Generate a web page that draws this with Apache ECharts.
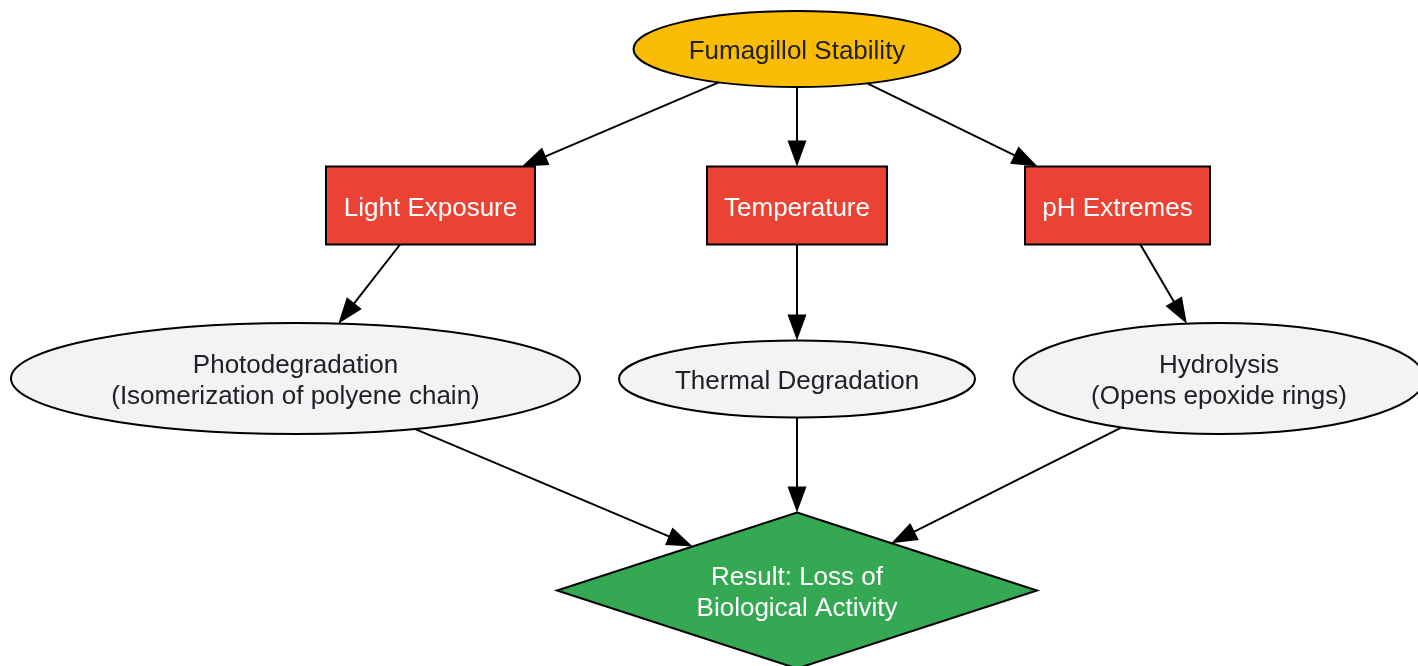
<!DOCTYPE html>
<html>
<head>
<meta charset="utf-8">
<script src="https://cdn.jsdelivr.net/npm/echarts@6/dist/echarts.min.js"></script>
<style>
  html, body { margin: 0; padding: 0; background: #fff; }
  #chart { width: 1418px; height: 666px; }
</style>
</head>
<body>
<div id="chart"></div>
<script>
// 节点文字
const nodeNames = [
  'Fumagillol Stability',
  'Light Exposure',
  'Temperature',
  'pH Extremes',
  'Photodegradation\n(Isomerization of polyene chain)',
  'Thermal Degradation',
  'Hydrolysis\n(Opens epoxide rings)',
  'Result: Loss of\nBiological Activity'
]
const nodeShapes = ['ellipse', 'rect', 'rect', 'rect', 'ellipse', 'ellipse', 'ellipse', 'diamond']
// 连线 (from -> to)
const edgeFrom = [0, 0, 0, 1, 2, 3, 4, 5, 6]
const edgeTo = [1, 2, 3, 4, 5, 6, 7, 7, 7]

// 布局
const nodeX = [797, 430.5, 797, 1117.5, 295.5, 797, 1219, 797]
const nodeY = [49, 205.5, 205.5, 205.5, 378.5, 379, 378.5, 590.5]
const nodeW = [327, 209, 180, 185, 569, 356, 411, 480]
const nodeH = [76, 78, 78, 78, 111, 77, 111, 156]
const nodeFill = ['#FBBC05', '#EA4335', '#EA4335', '#EA4335', '#F1F3F4', '#F1F3F4', '#F1F3F4', '#34A853']
const nodeTextColor = ['#202124', '#fff', '#fff', '#fff', '#202124', '#202124', '#202124', '#fff']

const arrowW = 19
const arrowL = 26

// 形状边界截断
const clipT = (i, dx, dy) => {
  const hw = nodeW[i] / 2, hh = nodeH[i] / 2
  if (nodeShapes[i] === 'ellipse') return 1 / Math.sqrt((dx / hw) ** 2 + (dy / hh) ** 2)
  if (nodeShapes[i] === 'diamond') return 1 / (Math.abs(dx) / hw + Math.abs(dy) / hh)
  return Math.min(dx ? hw / Math.abs(dx) : Infinity, dy ? hh / Math.abs(dy) : Infinity)
}

const edgeData = edgeFrom.map((f, k) => {
  const t = edgeTo[k]
  const dx = nodeX[t] - nodeX[f], dy = nodeY[t] - nodeY[f]
  const len = Math.sqrt(dx * dx + dy * dy)
  const ts = clipT(f, dx, dy)
  const te = clipT(t, dx, dy)
  const back = arrowL / 2 / len
  return {
    coords: [
      [nodeX[f] + dx * ts, nodeY[f] + dy * ts],
      [nodeX[t] - dx * (te + back), nodeY[t] - dy * (te + back)]
    ]
  }
})

const nodeStroke = {stroke: '#000', lineWidth: 2}

const renderNode = (params, api) => {
  const i = params.dataIndex
  const c = api.coord([api.value(0), api.value(1)])
  const s = api.size([api.value(2), api.value(3)])
  const w = s[0], h = s[1]
  let shape
  if (nodeShapes[i] === 'ellipse') {
    shape = {type: 'ellipse', shape: {cx: c[0], cy: c[1], rx: w / 2, ry: h / 2}}
  } else if (nodeShapes[i] === 'diamond') {
    shape = {
      type: 'polygon',
      shape: {points: [[c[0], c[1] - h / 2], [c[0] + w / 2, c[1]], [c[0], c[1] + h / 2], [c[0] - w / 2, c[1]]]}
    }
  } else {
    shape = {type: 'rect', shape: {x: c[0] - w / 2, y: c[1] - h / 2, width: w, height: h}}
  }
  shape.style = {fill: nodeFill[i], ...nodeStroke}
  return {
    type: 'group',
    children: [
      shape,
      {
        type: 'text',
        style: {
          text: nodeNames[i],
          x: c[0],
          y: c[1] + 3,
          align: 'center',
          verticalAlign: 'middle',
          fill: nodeTextColor[i],
          fontSize: 26,
          lineHeight: 31,
          fontFamily: '"Liberation Sans", Arial, sans-serif'
        }
      }
    ]
  }
}

const chart = echarts.init(document.getElementById('chart'))
chart.setOption({
  animation: false,
  grid: {left: 0, right: 0, top: 0, bottom: 0},
  xAxis: {type: 'value', min: 0, max: 1418, show: false},
  yAxis: {type: 'value', min: 0, max: 666, inverse: true, show: false},
  series: [
    {
      type: 'lines',
      coordinateSystem: 'cartesian2d',
      z: 1,
      symbol: ['none', 'triangle'],
      symbolSize: [[arrowW, arrowL], [arrowW, arrowL]],
      lineStyle: {color: '#000', width: 2, opacity: 1},
      silent: true,
      data: edgeData
    },
    {
      type: 'custom',
      z: 2,
      silent: true,
      clip: false,
      encode: {x: 0, y: 1},
      renderItem: renderNode,
      data: nodeNames.map((n, i) => [nodeX[i], nodeY[i], nodeW[i], nodeH[i]])
    }
  ]
})
</script>
</body>
</html>
